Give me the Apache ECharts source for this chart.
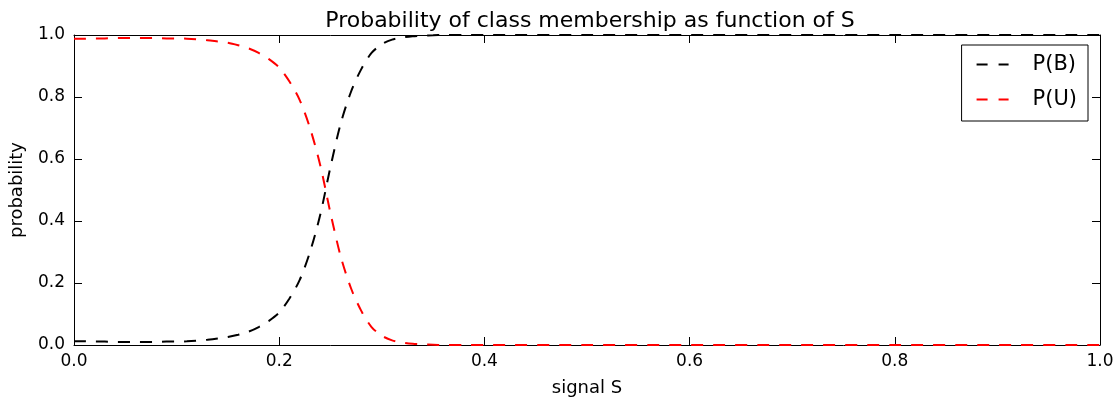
<!DOCTYPE html>
<html>
<head>
<meta charset="utf-8">
<script src="https://cdn.jsdelivr.net/npm/echarts@6/dist/echarts.min.js"></script>
<style>
  html, body { margin: 0; padding: 0; background: #fff; }
  #main { width: 1118px; height: 403px; }
</style>
</head>
<body>
<div id="main"></div>
<script>
// signal S (x) values where the curves were read
var signalS = [
  0.00, 0.01, 0.02, 0.03, 0.04, 0.05, 0.06, 0.07, 0.08, 0.09,
  0.10, 0.11, 0.12, 0.13, 0.14, 0.15, 0.16, 0.17, 0.18, 0.19,
  0.20, 0.21, 0.22, 0.23, 0.24, 0.25, 0.26, 0.27, 0.28, 0.29,
  0.30, 0.31, 0.32, 0.33, 0.34, 0.35, 0.36, 0.38, 0.40, 0.50,
  0.60, 0.70, 0.80, 0.90, 1.00
];
// P(B)
var probB = [
  0.012, 0.012, 0.011, 0.011, 0.010, 0.010, 0.010, 0.010, 0.010, 0.011,
  0.011, 0.012, 0.014, 0.017, 0.021, 0.026, 0.033, 0.043, 0.058, 0.078,
  0.105, 0.150, 0.210, 0.300, 0.420, 0.575, 0.715, 0.817, 0.890, 0.942,
  0.970, 0.985, 0.992, 0.996, 0.998, 0.999, 1.000, 1.000, 1.000, 1.000,
  1.000, 1.000, 1.000, 1.000, 1.000
];
// P(U)
var probU = [
  0.988, 0.988, 0.989, 0.989, 0.990, 0.990, 0.990, 0.990, 0.990, 0.989,
  0.989, 0.988, 0.986, 0.983, 0.979, 0.975, 0.967, 0.957, 0.942, 0.922,
  0.895, 0.850, 0.790, 0.700, 0.580, 0.425, 0.285, 0.183, 0.110, 0.058,
  0.030, 0.015, 0.008, 0.004, 0.002, 0.001, 0.000, 0.000, 0.000, 0.000,
  0.000, 0.000, 0.000, 0.000, 0.000
];
var tickLabels = ["0.0", "0.2", "0.4", "0.6", "0.8", "1.0"];

function pairs(ys) {
  return signalS.map(function (x, i) { return [x, ys[i]]; });
}

var font = "DejaVu Sans";
var fmt = function (v) { return tickLabels[Math.round(v / 0.2)] || v.toFixed(1); };
// two short dashes, like the matplotlib legend handle
var dashIcon = "path://M0,0 L11,0 L11,2 L0,2 Z M22,0 L32,0 L32,2 L22,2 Z";

var myChart = echarts.init(document.getElementById("main"));

var baseAxis = {
  type: "value",
  min: 0,
  max: 1,
  interval: 0.2,
  axisLine: { show: true, onZero: false, lineStyle: { color: "#000", width: 1 } },
  axisTick: { show: true, inside: true, length: 8, lineStyle: { color: "#000", width: 1 } },
  splitLine: { show: false }
};

var option = {
  animation: false,
  backgroundColor: "#fff",
  title: {
    text: "Probability of class membership as function of S",
    left: 585,
    textAlign: "center",
    top: 5,
    textStyle: { fontFamily: font, fontSize: 22, fontWeight: "normal", color: "#000" }
  },
  legend: {
    orient: "vertical",
    right: 30,
    top: 45,
    padding: [9, 11, 11, 15],
    itemGap: 14,
    itemWidth: 32,
    itemHeight: 2,
    icon: dashIcon,
    borderColor: "#000",
    borderWidth: 1,
    borderRadius: 0,
    textStyle: { fontFamily: font, fontSize: 21, color: "#000", padding: [0, 0, 0, 19] },
    data: ["P(B)", "P(U)"]
  },
  grid: { left: 72, right: 18, top: 35, bottom: 58, containLabel: false },
  xAxis: [
    Object.assign({}, baseAxis, {
      position: "bottom",
      name: "signal S",
      nameLocation: "middle",
      nameGap: 34,
      nameTextStyle: { fontFamily: font, fontSize: 18, color: "#000" },
      axisLabel: { formatter: fmt, margin: 8, fontFamily: font, fontSize: 17, color: "#000" }
    }),
    Object.assign({}, baseAxis, { position: "top", axisLabel: { show: false } })
  ],
  yAxis: [
    Object.assign({}, baseAxis, {
      position: "left",
      name: "probability",
      nameLocation: "middle",
      nameGap: 48,
      nameTextStyle: { fontFamily: font, fontSize: 18, color: "#000" },
      axisLabel: { formatter: fmt, margin: 9, fontFamily: font, fontSize: 17, color: "#000" }
    }),
    Object.assign({}, baseAxis, { position: "right", axisLabel: { show: false } })
  ],
  series: [
    {
      name: "P(B)",
      type: "line",
      data: pairs(probB),
      smooth: 0.3,
      showSymbol: false,
      symbol: "none",
      color: "#000",
      lineStyle: { color: "#000", width: 2, type: [12, 10] },
      z: 2
    },
    {
      name: "P(U)",
      type: "line",
      data: pairs(probU),
      smooth: 0.3,
      showSymbol: false,
      symbol: "none",
      color: "#ff0000",
      lineStyle: { color: "#ff0000", width: 2, type: [12, 10] },
      z: 3
    }
  ]
};

myChart.setOption(option);
</script>
</body>
</html>
